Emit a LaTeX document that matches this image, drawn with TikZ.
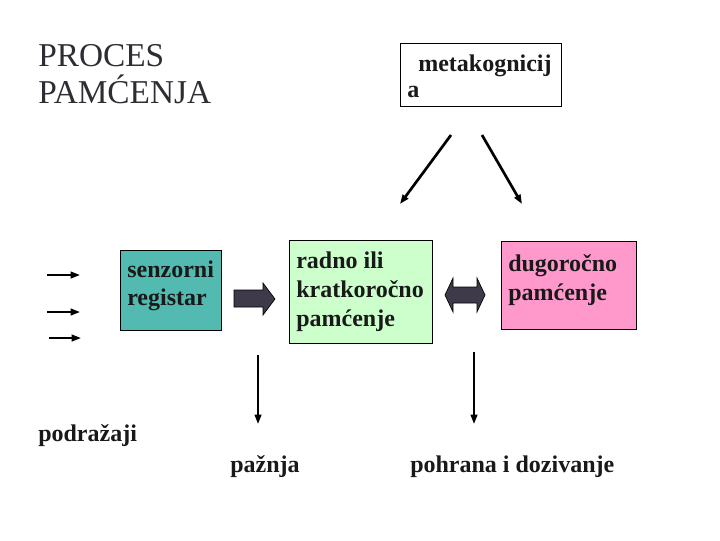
\documentclass[tikz,border=0pt]{standalone}
\usepackage{fontspec}
\setmainfont{Liberation Serif}
\usetikzlibrary{arrows.meta}
\definecolor{teal1}{RGB}{82,186,176}
\definecolor{lgreen}{RGB}{204,255,204}
\definecolor{pink1}{RGB}{255,153,204}
\definecolor{blockc}{RGB}{62,58,74}
\definecolor{titlec}{RGB}{45,45,52}
\tikzset{
  box/.style={draw=black, line width=0.6pt, inner sep=0pt, anchor=north west},
  txt/.style={anchor=base west, inner sep=0pt, font=\bfseries\fontsize{18}{22}\selectfont, text=black!90},
  ttl/.style={anchor=base west, inner sep=0pt, font=\fontsize{25}{30}\selectfont, text=titlec},
  thin/.style={line width=1.4pt, -{Triangle[length=7pt,width=5pt]}},
  blockarrow/.style={fill=blockc, draw=black, line width=0.5pt}
}
\begin{document}
\begin{tikzpicture}[x=0.75pt,y=-0.75pt]
\useasboundingbox (0,0) rectangle (720,540);
% title
\node[ttl] (t1) at (38,66) {PROCES};
\node[ttl] (t2) at (38,103) {PAMĆENJA};
% meta box
\node[box, fill=white, minimum width=120.75pt, minimum height=47.25pt] (meta) at (400,43) {};
\node[txt] (m1) at (418,71) {metakognicij};
\node[txt] (m2) at (407,97) {a};
% boxes
\node[box, fill=teal1, minimum width=75.75pt, minimum height=60pt] (sen) at (120,250) {};
\node[txt] (s1) at (127,277) {senzorni};
\node[txt] (s2) at (127,305) {registar};
\node[box, fill=lgreen, minimum width=107.25pt, minimum height=77.25pt] (rad) at (289,240) {};
\node[txt] (r1) at (296,268) {radno ili};
\node[txt] (r2) at (296,297) {kratkoročno};
\node[txt] (r3) at (296,326) {pamćenje};
\node[box, fill=pink1, minimum width=101.25pt, minimum height=66pt] (dug) at (501,241) {};
\node[txt] (d1) at (508,271) {dugoročno};
\node[txt] (d2) at (508,300) {pamćenje};
% block arrows
\draw[blockarrow] (234,290) -- (263,290) -- (263,283) -- (275,299) -- (263,315) -- (263,307) -- (234,307) -- cycle;
\draw[blockarrow] (445,295) -- (453,278) -- (453,287) -- (477,287) -- (477,278) -- (485,295) -- (477,312) -- (477,303) -- (453,303) -- (453,312) -- cycle;
% stimulus arrows
\coordinate (a1s) at (47,275); \coordinate (a1e) at (80,275);
\coordinate (a2s) at (47,312); \coordinate (a2e) at (80,312);
\coordinate (a3s) at (49,338); \coordinate (a3e) at (81,338);
\draw[thin] (a1s) -- (a1e);
\draw[thin] (a2s) -- (a2e);
\draw[thin] (a3s) -- (a3e);
% meta arrows
\coordinate (ml) at (451,135); \coordinate (mle) at (400,204);
\coordinate (mr) at (482,135); \coordinate (mre) at (522,204);
\draw[thin, line width=2pt] (ml) -- (mle);
\draw[thin, line width=2pt] (mr) -- (mre);
% down arrows
\coordinate (p1) at (258,355); \coordinate (p1e) at (258,424);
\coordinate (p2) at (474,352); \coordinate (p2e) at (474,424);
\draw[thin] (p1) -- (p1e);
\draw[thin] (p2) -- (p2e);
% bottom texts
\node[txt] (pod) at (38,441) {podražaji};
\node[txt] (paz) at (230,472) {pažnja};
\node[txt] (poh) at (410,472) {pohrana i dozivanje};
\end{tikzpicture}
\end{document}
